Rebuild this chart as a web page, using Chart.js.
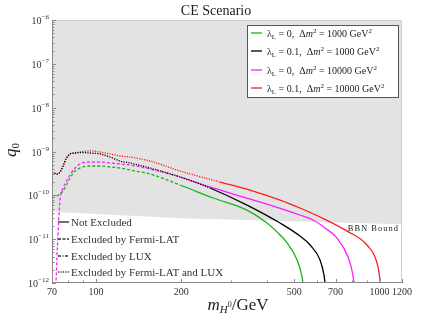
<!DOCTYPE html>
<html>
<head>
<meta charset="utf-8">
<script src="https://cdn.jsdelivr.net/npm/chart.js@4.4.0/dist/chart.umd.min.js"></script>
<style>
html, body { margin: 0; padding: 0; background: #fff; }
</style>
</head>
<body>
<canvas id="qChart" width="421" height="316"></canvas>
<script>
// m_H0 in GeV, q0
const greenM = [70, 71.7, 74.7, 76.6, 78.4, 81.0, 84.4, 87.9, 95.3, 103.4, 112.1, 121.6, 131.9, 155.1, 198, 259, 341, 401, 446, 472, 512, 533, 546];
const greenQ = [8.7e-11, 9.2e-11, 1.07e-10, 1.26e-10, 1.63e-10, 2.48e-10, 3.59e-10, 4.20e-10, 4.67e-10, 4.67e-10, 4.43e-10, 4.20e-10, 3.78e-10, 3.06e-10, 1.72e-10, 8.7e-11, 4.6e-11, 2.33e-11, 1.24e-11, 8.2e-12, 3.34e-12, 1.37e-12, 4e-13];

const blackM = [70, 72.9, 74.7, 76.6, 78.4, 81.0, 84.4, 87.9, 95.3, 103.4, 112.1, 121.6, 131.9, 155.1, 198, 252.5, 341, 446, 524, 569, 617, 637, 653];
const blackQ = [3.40e-10, 3.06e-10, 3.40e-10, 4.67e-10, 6.74e-10, 8.78e-10, 9.24e-10, 9.5e-10, 9.24e-10, 8.78e-10, 7.48e-10, 6.07e-10, 5.46e-10, 4.20e-10, 2.62e-10, 1.47e-10, 6.0e-11, 2.33e-11, 1.18e-11, 7.36e-12, 3.34e-12, 1.52e-12, 4e-13];

const magentaM = [71.9, 73.2, 74.7, 76.6, 78.4, 81.0, 84.4, 87.9, 95.3, 103.4, 112.1, 121.6, 131.9, 155.1, 198, 252.5, 322, 411, 524, 583, 642, 708, 774, 806, 826];
const magentaQ = [4e-13, 7.36e-12, 7.8e-11, 1.47e-10, 2.01e-10, 2.91e-10, 4.20e-10, 5.19e-10, 5.75e-10, 5.75e-10, 5.46e-10, 5.19e-10, 4.92e-10, 3.98e-10, 2.62e-10, 1.55e-10, 9.65e-11, 6.0e-11, 3.56e-11, 2.73e-11, 1.8e-11, 1.06e-11, 3.92e-12, 1.5e-12, 4e-13];

const redM = [70, 72.9, 74.7, 76.6, 78.4, 81.0, 84.4, 87.9, 95.3, 103.4, 112.1, 121.6, 131.9, 155.1, 198, 274, 349, 446, 524, 617, 768, 903, 980, 1004, 1020];
const redQ = [3.40e-10, 3.06e-10, 3.40e-10, 4.67e-10, 6.74e-10, 8.78e-10, 9.24e-10, 9.73e-10, 1.03e-9, 9.73e-10, 8.78e-10, 7.89e-10, 7.48e-10, 6.07e-10, 3.59e-10, 2.01e-10, 1.32e-10, 7.8e-11, 5.14e-11, 3.2e-11, 1.53e-11, 7.36e-12, 2.86e-12, 1.17e-12, 4e-13];

// BBN bound, everything above it is shaded
const bbnM = [70, 198, 1200];
const bbnQ = [4.2e-11, 3.0e-11, 2.2e-11];

// curves are excluded (dashed / dotted) below these masses
const excludedBelow = [220, 310, 235, 322];

const lambdaL = ['0', '0.1', '0', '0.1'];
const deltaM2 = ['1000', '1000', '10000', '10000'];
const styleLabels = ['Not Excluded', 'Excluded by Fermi-LAT', 'Excluded by LUX', 'Excluded by Fermi-LAT and LUX'];

const xTicks = [70, 100, 200, 500, 700, 1000, 1200];
const xMinor = [80, 90, 300, 400, 600, 800, 900];
const yTicks = [1e-12, 1e-11, 1e-10, 1e-9, 1e-8, 1e-7, 1e-6];

const colors = ['#19b219', '#000000', '#ff1aff', '#ff1a1a'];
const dashes = [[3, 2], [1.2, 1.3], [3, 2], [1.2, 1.3]];
const serif = '"Liberation Serif", "DejaVu Serif", serif';

function pts(ms, qs) {
    return ms.map((m, i) => ({ x: m, y: qs[i] }));
}

function curve(ms, qs, i) {
    return {
        data: pts(ms, qs),
        borderColor: colors[i],
        borderWidth: 1.3,
        pointRadius: 0,
        cubicInterpolationMode: 'monotone',
        fill: false,
        order: 0,
        segment: {
            borderDash: c => c.p1.parsed.x <= excludedBelow[i] ? dashes[i] : []
        }
    };
}

// draws a row of text pieces: [text, size, dy, italic]
function rich(ctx, x, y, parts, align) {
    let w = 0;
    parts.forEach(p => {
        ctx.font = (p[3] ? 'italic ' : '') + p[1] + 'px ' + serif;
        w += ctx.measureText(p[0]).width;
    });
    let cx = align === 'right' ? x - w : align === 'center' ? x - w / 2 : x;
    parts.forEach(p => {
        ctx.font = (p[3] ? 'italic ' : '') + p[1] + 'px ' + serif;
        ctx.fillText(p[0], cx, y + (p[2] || 0));
        cx += ctx.measureText(p[0]).width;
    });
}

const decor = {
    id: 'decor',
    afterDraw(chart) {
        const ctx = chart.ctx;
        const a = chart.chartArea;
        const xs = chart.scales.x, ys = chart.scales.y;
        ctx.save();
        ctx.textBaseline = 'alphabetic';

        // frame
        ctx.strokeStyle = '#cfcfcf';
        ctx.lineWidth = 1;
        ctx.beginPath();
        ctx.moveTo(a.left, a.top + 0.5); ctx.lineTo(a.right - 0.5, a.top + 0.5); ctx.lineTo(a.right - 0.5, a.bottom);
        ctx.stroke();
        ctx.strokeStyle = '#8a8a8a';
        ctx.beginPath();
        ctx.moveTo(a.left + 0.5, a.top); ctx.lineTo(a.left + 0.5, a.bottom - 0.5); ctx.lineTo(a.right, a.bottom - 0.5);
        ctx.stroke();

        // ticks, pointing inward
        ctx.strokeStyle = '#8a8a8a';
        ctx.beginPath();
        yTicks.forEach((v, k) => {
            const y = Math.round(ys.getPixelForValue(v)) + 0.5;
            ctx.moveTo(a.left, y); ctx.lineTo(a.left + 4, y);
            if (k < yTicks.length - 1) {
                for (let d = 2; d < 10; d++) {
                    const yy = Math.round(ys.getPixelForValue(v * d)) + 0.5;
                    ctx.moveTo(a.left, yy); ctx.lineTo(a.left + 2.5, yy);
                }
            }
        });
        xTicks.forEach(v => {
            const x = Math.round(xs.getPixelForValue(v)) + 0.5;
            ctx.moveTo(x, a.bottom); ctx.lineTo(x, a.bottom - 4);
        });
        xMinor.forEach(v => {
            const x = Math.round(xs.getPixelForValue(v)) + 0.5;
            ctx.moveTo(x, a.bottom); ctx.lineTo(x, a.bottom - 2.5);
        });
        ctx.stroke();

        // tick labels
        ctx.fillStyle = '#333';
        const sup = { '-': '\u2212' };
        yTicks.forEach(v => {
            const y = ys.getPixelForValue(v);
            const e = String(Math.round(Math.log10(v))).replace('-', sup['-']);
            rich(ctx, a.left - 3, y + 4, [['10', 10, 0], [e, 7, -5]], 'right');
        });
        ctx.font = '10px ' + serif;
        ctx.textAlign = 'center';
        xTicks.forEach(v => {
            ctx.fillText(String(v), xs.getPixelForValue(v), a.bottom + 12);
        });
        ctx.textAlign = 'left';

        // title
        ctx.fillStyle = '#222';
        rich(ctx, 216, 15, [['CE Scenario', 14, 0]], 'center');

        // axis titles
        rich(ctx, 238, 310, [['m', 17, 0, true], ['H', 11, 3, true], ['0', 8, -3], ['/GeV', 17, 0]], 'center');
        ctx.save();
        ctx.translate(16, 150);
        ctx.rotate(-Math.PI / 2);
        rich(ctx, 0, 0, [['q', 17, 0, true], ['0', 11, 3]], 'center');
        ctx.restore();

        // BBN label
        ctx.fillStyle = '#222';
        ctx.letterSpacing = '1px';
        rich(ctx, 399, 231, [['BBN Bound', 8.5, 0]], 'right');
        ctx.letterSpacing = '0px';

        // series legend box
        ctx.fillStyle = '#fff';
        ctx.fillRect(247, 25, 151, 72);
        ctx.strokeStyle = '#555';
        ctx.lineWidth = 1;
        ctx.strokeRect(247.5, 25.5, 151, 72);
        const rowsY = [33, 51, 70, 88];
        rowsY.forEach((y, i) => {
            ctx.strokeStyle = colors[i];
            ctx.lineWidth = 1.3;
            ctx.beginPath();
            ctx.moveTo(251, y); ctx.lineTo(262, y);
            ctx.stroke();
            ctx.fillStyle = '#222';
            rich(ctx, 267, y + 3.5, [
                ['\u03bb', 10, 0], ['L', 7, 2], [' = ' + lambdaL[i] + ',  \u0394', 10, 0], ['m', 10, 0, true],
                ['2', 7, -4], [' = ' + deltaM2[i] + ' GeV', 10, 0], ['2', 7, -4]
            ], 'left');
        });

        // line style legend
        const styleDash = [[], [3, 1.5], [3, 1.5, 1, 1.5], [1.2, 1.2]];
        const styleY = [222, 239, 256, 272];
        styleY.forEach((y, i) => {
            ctx.strokeStyle = '#333';
            ctx.lineWidth = 1.4;
            ctx.setLineDash(styleDash[i]);
            ctx.beginPath();
            ctx.moveTo(58, y); ctx.lineTo(69, y);
            ctx.stroke();
            ctx.setLineDash([]);
            ctx.fillStyle = '#333';
            rich(ctx, 71, y + 4, [[styleLabels[i], 11, 0]], 'left');
        });

        ctx.restore();
    }
};

const chart = new Chart(document.getElementById('qChart'), {
    type: 'line',
    data: {
        datasets: [
            curve(greenM, greenQ, 0),
            curve(blackM, blackQ, 1),
            curve(magentaM, magentaQ, 2),
            curve(redM, redQ, 3),
            {
                data: pts(bbnM, bbnQ),
                borderWidth: 0,
                borderColor: 'rgba(0,0,0,0)',
                backgroundColor: '#e3e3e3',
                pointRadius: 0,
                fill: 'end',
                order: 10
            }
        ]
    },
    options: {
        responsive: false,
        devicePixelRatio: 1,
        animation: false,
        layout: { padding: { left: 0, top: 20, right: 19, bottom: 0 } },
        plugins: {
            legend: { display: false },
            tooltip: { enabled: false },
            filler: { drawTime: 'beforeDatasetsDraw' }
        },
        scales: {
            x: {
                type: 'logarithmic',
                min: 70,
                max: 1200,
                grid: { display: false },
                border: { display: false },
                ticks: { display: false },
                afterFit: s => { s.height = 33; }
            },
            y: {
                type: 'logarithmic',
                min: 1e-12,
                max: 1e-6,
                grid: { display: false },
                border: { display: false },
                ticks: { display: false },
                afterFit: s => { s.width = 52; }
            }
        }
    },
    plugins: [decor]
});
</script>
</body>
</html>
